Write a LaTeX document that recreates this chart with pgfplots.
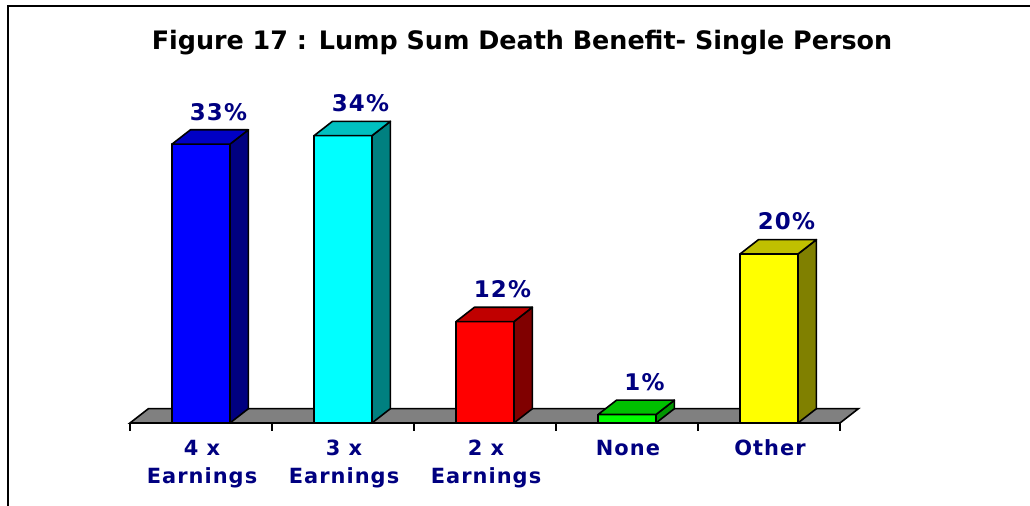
\documentclass[border=0pt]{standalone}
\usepackage{pgfplots}
\usepackage{pgfplotstable}
\pgfplotsset{compat=1.18}
\usepackage{fontspec}
\setmainfont{DejaVu Sans}
\newfontfamily\widefont[LetterSpace=5]{DejaVu Sans}

\definecolor{navy}{RGB}{0,0,128}
\definecolor{floorgray}{RGB}{128,128,128}
\definecolor{front0}{RGB}{0,0,255}   \definecolor{top0}{RGB}{0,0,196}   \definecolor{side0}{RGB}{0,0,128}
\definecolor{front1}{RGB}{0,255,255} \definecolor{top1}{RGB}{0,192,192} \definecolor{side1}{RGB}{0,128,128}
\definecolor{front2}{RGB}{255,0,0}   \definecolor{top2}{RGB}{192,0,0}   \definecolor{side2}{RGB}{128,0,0}
\definecolor{front3}{RGB}{0,255,0}   \definecolor{top3}{RGB}{0,192,0}   \definecolor{side3}{RGB}{0,150,0}
\definecolor{front4}{RGB}{255,255,0} \definecolor{top4}{RGB}{192,192,0} \definecolor{side4}{RGB}{128,128,0}

% share of respondents, per benefit level
\pgfplotstableread{
x y
0 33
1 34
2 12
3 1
4 20
}\benefit

\newcommand{\hw}{0.204}  % half bar width (category units)
\newcommand{\dx}{0.13}   % 3d depth, x
\newcommand{\dy}{1.7}    % 3d depth, y

\begin{document}
\begin{tikzpicture}[x=1bp,y=1bp]
\useasboundingbox (0,0) rectangle (1030,506);

\begin{axis}[
    at={(0,0)}, anchor=south west,
    scale only axis,
    width=1030bp, height=506bp,
    xmin=-1.41549, xmax=5.83803,
    ymin=-9.8225, ymax=50.0592,
    hide axis, clip=false,
    /pgf/number format/assume math mode=true,
]

% floor
\addplot[fill=floorgray, draw=black, line width=1.6bp, mark=none]
    coordinates {(-0.5,0) (4.5,0) (4.63,1.7) (-0.37,1.7)} -- cycle;

% ticks at category borders
\pgfplotsinvokeforeach{-0.5,0.5,1.5,2.5,3.5,4.5}{
  \addplot[draw=black, line width=1.6bp, mark=none]
      coordinates {(#1,0) (#1,-0.95)};
}

% 3d bars
\pgfplotsinvokeforeach{0,...,4}{
  \pgfplotstablegetelem{#1}{y}\of\benefit
  \let\v\pgfplotsretval
  \pgfmathsetmacro\xl{#1-\hw}
  \pgfmathsetmacro\xr{#1+\hw}
  \pgfmathsetmacro\xlb{#1-\hw+\dx}
  \pgfmathsetmacro\xrb{#1+\hw+\dx}
  \pgfmathsetmacro\vb{\v+\dy}
  \addplot[fill=front#1, draw=black, line width=1.6bp, line join=round, mark=none]
      coordinates {(\xl,0) (\xr,0) (\xr,\v) (\xl,\v)} -- cycle;
  \addplot[fill=side#1, draw=black, line width=1.6bp, line join=round, mark=none]
      coordinates {(\xr,0) (\xrb,\dy) (\xrb,\vb) (\xr,\v)} -- cycle;
  \addplot[fill=top#1, draw=black, line width=1.6bp, line join=round, mark=none]
      coordinates {(\xl,\v) (\xr,\v) (\xrb,\vb) (\xlb,\vb)} -- cycle;
}

% value labels
\addplot[only marks, mark=*, mark size=0.1pt, mark options={draw=none, fill=none},
    point meta=explicit,
    nodes near coords={\pgfmathprintnumber{\pgfplotspointmeta}\%},
    nodes near coords style={font=\widefont\bfseries\fontsize{23}{27}\selectfont,
        text=navy, anchor=center, yshift=18bp, xshift=-1bp}]
    table[x expr=\thisrow{x}+\dx, y expr=\thisrow{y}+\dy, meta=y] {\benefit};
\end{axis}

% frame
\draw[line width=1.6bp] (8,-10) -- (8,500) -- (1040,500);

% title
\node[font=\bfseries\fontsize{25.5}{30}\selectfont] at (522,463)
    {Figure 17 : Lump Sum Death Benefit- Single Person};

% category labels
\begin{scope}[every node/.style={font=\widefont\bfseries\fontsize{21}{25}\selectfont,
    text=navy, anchor=base, xshift=1bp}]
\node at (201,50.5) {4 x};
\node at (201,22.5) {Earnings};
\node at (343,50.5) {3 x};
\node at (343,22.5) {Earnings};
\node at (485,50.5) {2 x};
\node at (485,22.5) {Earnings};
\node at (627,50.5) {None};
\node at (769,50.5) {Other};
\end{scope}
\end{tikzpicture}
\end{document}
